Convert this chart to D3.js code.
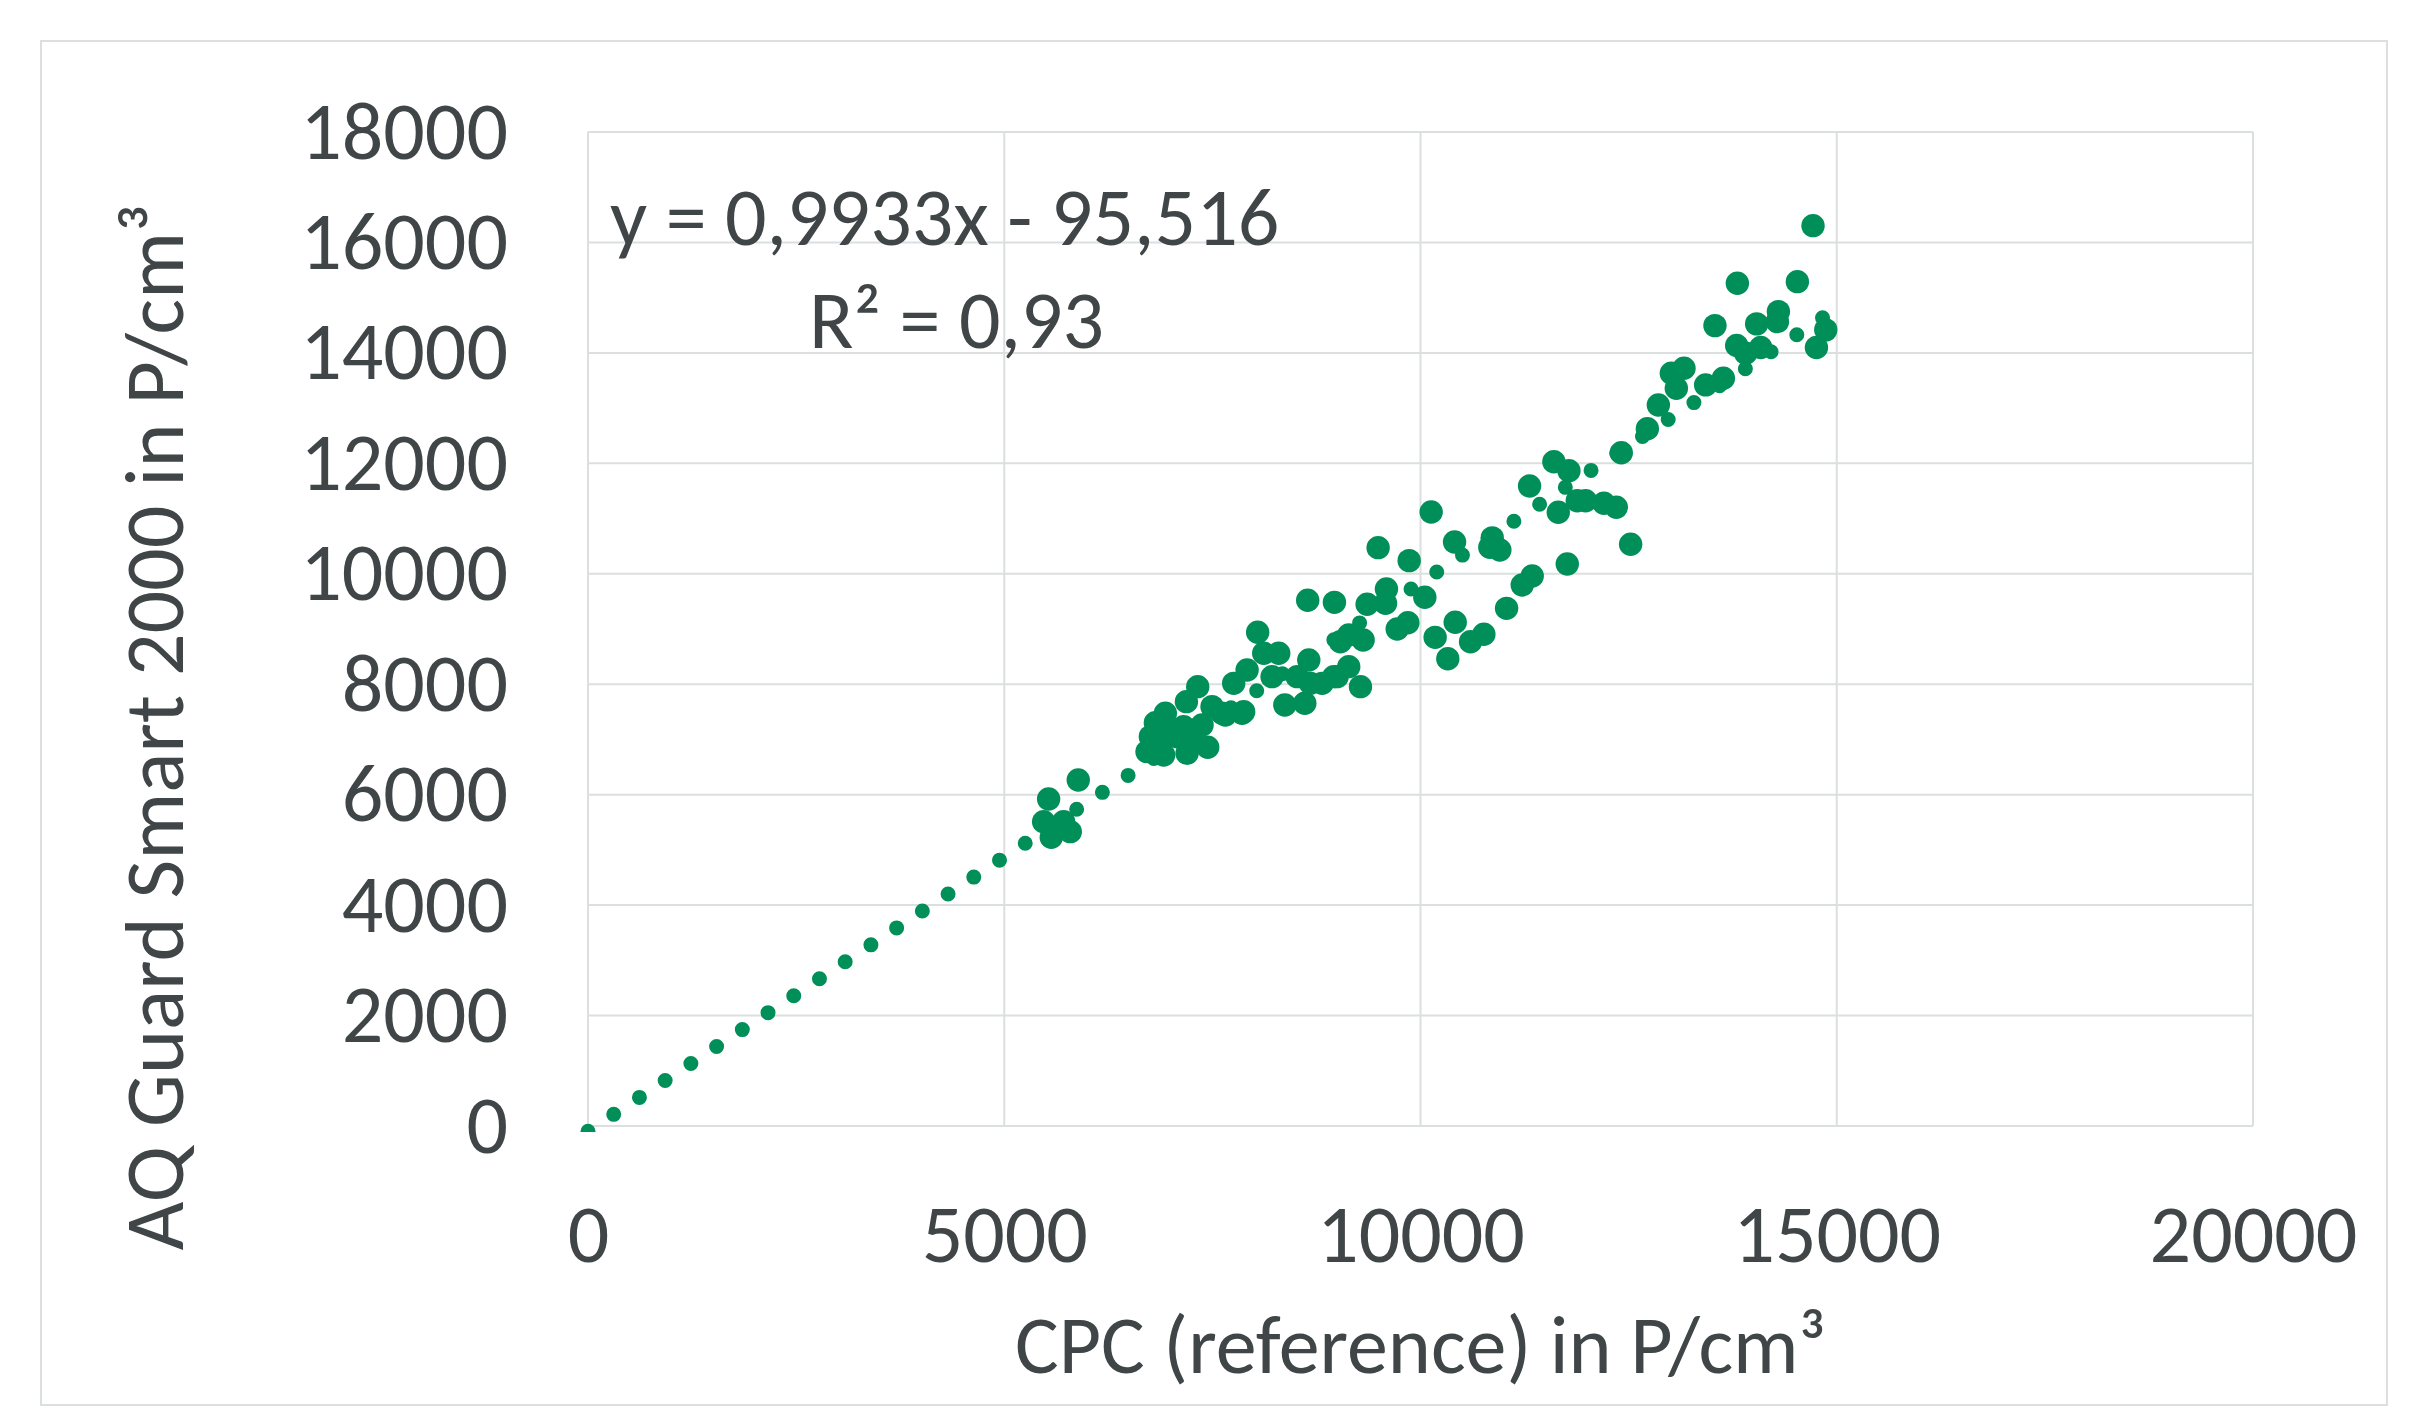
<!DOCTYPE html>
<html>
<head>
<meta charset="utf-8">
<script src="https://cdn.jsdelivr.net/npm/d3@7/dist/d3.min.js"></script>
<style>
  html, body { margin: 0; padding: 0; background: #ffffff; }
  svg text { font-family: Carlito, Calibri, Lato, sans-serif; fill: #404547; }
</style>
</head>
<body>
<svg id="chart"></svg>
<script>
// values: CPC reference (x) vs AQ Guard Smart 2000 (y)
const cpcValues = [
  5533, 5889, 5473, 5565, 5713, 5793, 5650,
  6715, 6855, 6815, 6935, 6955, 7155, 7188, 7324, 7256, 7444, 7376, 7496, 7616,
  7756, 7857, 7917, 8044, 8117, 8297, 8217, 8370, 8610, 8658, 8818, 8998, 8645,
  8966, 6755, 7075, 6995, 6915, 7196, 7656, 7876,
  9491, 9864, 10128, 10409, 10833, 10953, 10862, 9591, 9359, 9580, 10052, 9720,
  9848, 9038, 9138, 9311, 10176, 10417, 10328, 10601, 10761, 11034, 11222, 11342,
  9138, 9279, 8518, 8678, 8958,
  11310, 11602, 11783, 11655, 11883, 11983, 12203, 12352, 12412, 12524, 11763,
  12725, 12857, 13013, 13073, 13165, 13425, 13638, 13537, 13806, 14527, 14715,
  14038, 14299, 14287, 14868, 14756, 13798, 14087, 13906
];
const aqValues = [
  5922, 6266, 5511, 5228, 5511, 5330, 5400,
  6779, 6749, 7304, 7473, 7111, 7231, 7684, 7956, 6990, 6858, 7262, 7594, 7473,
  8016, 7473, 8258, 8940, 8560, 8560, 8137, 7624, 7655, 8439, 8016, 8137, 9520,
  9483, 7051, 7051, 7171, 6718, 6749, 7443, 7503,
  10473, 10238, 11119, 10576, 10480, 10431, 10650, 9725, 9447, 9465, 9574, 9000,
  9114, 8770, 8891, 8801, 8849, 9121, 8462, 8770, 8904, 9374, 9797, 9960,
  8318, 7956, 8137, 8016, 8137,
  11590, 12030, 11867, 11113, 11323, 11323, 11277, 11205, 12193, 10534, 10178,
  12625, 13057, 13632, 13360, 13723, 13420, 13541, 14494, 15261, 15290, 16304,
  14525, 14748, 14566, 14417, 14097, 14134, 14097, 13995
];

const xTicks = [0, 5000, 10000, 15000, 20000];
const yTicks = [0, 2000, 4000, 6000, 8000, 10000, 12000, 14000, 16000, 18000];

// linear trend as printed on the chart
const slope = 0.9933;
const intercept = -95.516;
const equationLabel = "y = 0,9933x - 95,516";
const r2Label = "R² = 0,93";

const xTitle = "CPC (reference) in P/cm³";
const yTitle = "AQ Guard Smart 2000 in P/cm³";

const width = 2423;
const height = 1406;
const plot = { left: 588, right: 2253, top: 132, bottom: 1126 };
const green = "#008f58";
const gridColor = "#dcdfdf";

const data = cpcValues.map((x, i) => ({ x: x, y: aqValues[i] }));

const svg = d3.select("#chart")
    .attr("width", width)
    .attr("height", height);

// outer chart frame
svg.append("rect")
    .attr("x", 41).attr("y", 41)
    .attr("width", 2387 - 41).attr("height", 1405 - 41)
    .attr("fill", "#ffffff")
    .attr("stroke", gridColor)
    .attr("stroke-width", 2);

const xScale = d3.scaleLinear()
    .domain([0, 20000])
    .range([plot.left, plot.right]);

const yScale = d3.scaleLinear()
    .domain([0, 18000])
    .range([plot.bottom, plot.top]);

// gridlines
svg.append("g")
    .selectAll("line.h")
    .data(yTicks)
    .join("line")
    .attr("x1", plot.left).attr("x2", plot.right)
    .attr("y1", d => yScale(d)).attr("y2", d => yScale(d))
    .attr("stroke", gridColor)
    .attr("stroke-width", 2);

svg.append("g")
    .selectAll("line.v")
    .data(xTicks)
    .join("line")
    .attr("x1", d => xScale(d)).attr("x2", d => xScale(d))
    .attr("y1", plot.top).attr("y2", plot.bottom)
    .attr("stroke", gridColor)
    .attr("stroke-width", 2);

// axes (labels only, Excel style)
const xAxis = svg.append("g")
    .attr("transform", `translate(0, ${plot.bottom})`)
    .call(d3.axisBottom(xScale).tickValues(xTicks).tickFormat(d3.format("d")).tickSize(0));
xAxis.select(".domain").remove();
xAxis.selectAll("text")
    .attr("y", 136)
    .attr("dy", 0)
    .style("font-size", "82px")
    .style("font-family", null)
    .attr("fill", null);

const yAxis = svg.append("g")
    .attr("transform", `translate(${508}, 0)`)
    .call(d3.axisLeft(yScale).tickValues(yTicks).tickFormat(d3.format("d")).tickSize(0));
yAxis.select(".domain").remove();
yAxis.selectAll("text")
    .attr("x", 0)
    .attr("dy", 26)
    .style("font-size", "82px")
    .style("font-family", null)
    .attr("fill", null);

// clip for trend line
svg.append("clipPath").attr("id", "plotClip")
    .append("rect")
    .attr("x", plot.left - 8).attr("y", plot.top)
    .attr("width", plot.right - plot.left + 8)
    .attr("height", plot.bottom - plot.top + 6);

// points
svg.append("g")
    .selectAll("circle")
    .data(data)
    .join("circle")
    .attr("cx", d => xScale(d.x))
    .attr("cy", d => yScale(d.y))
    .attr("r", 11.7)
    .attr("fill", green);

// dotted trend line from 0 to the largest x
const xMax = d3.max(cpcValues);
const line = d3.line()
    .x(d => xScale(d))
    .y(d => yScale(slope * d + intercept));

svg.append("path")
    .datum([0, xMax])
    .attr("d", line)
    .attr("clip-path", "url(#plotClip)")
    .attr("fill", "none")
    .attr("stroke", green)
    .attr("stroke-width", 15)
    .attr("stroke-linecap", "round")
    .attr("stroke-dasharray", "0 30.8");

// trend label
svg.append("text")
    .attr("x", 610).attr("y", 245)
    .style("font-size", "82px")
    .text(equationLabel);

svg.append("text")
    .attr("x", 809).attr("y", 348)
    .style("font-size", "82px")
    .text(r2Label);

// axis titles
svg.append("text")
    .attr("x", (plot.left + plot.right) / 2)
    .attr("y", 1373)
    .attr("text-anchor", "middle")
    .style("font-size", "82px")
    .text(xTitle);

svg.append("text")
    .attr("transform", "translate(183, 727) rotate(-90)")
    .attr("text-anchor", "middle")
    .style("font-size", "84px")
    .text(yTitle);
</script>
</body>
</html>
